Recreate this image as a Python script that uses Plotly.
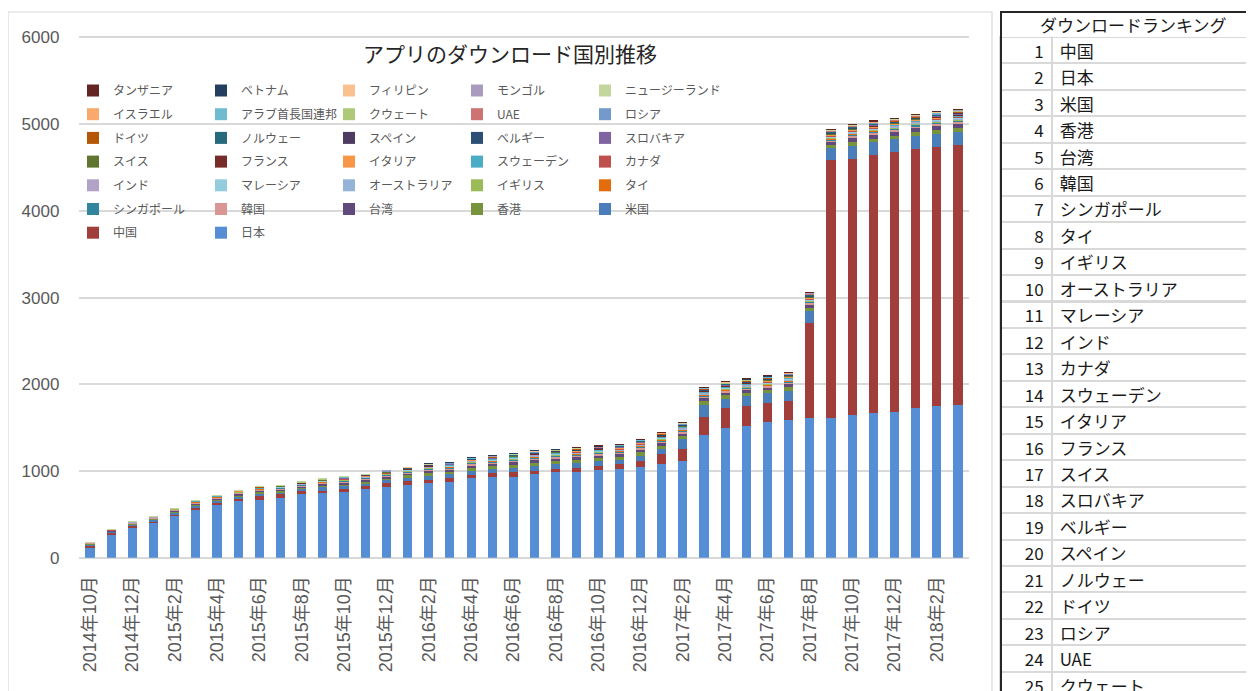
import plotly.graph_objects as go

# the page body adds an 8px margin, so the figure is laid out 8px smaller and shifted
OFF = 8
FW, FH = 1254 - OFF, 691 - OFF


def px(x):
    return (x - OFF) / FW


def py(y):
    return 1 - (y - OFF) / FH


months = ["2014年10月", "2014年11月", "2014年12月",
          "2015年1月", "2015年2月", "2015年3月", "2015年4月", "2015年5月", "2015年6月",
          "2015年7月", "2015年8月", "2015年9月", "2015年10月", "2015年11月", "2015年12月",
          "2016年1月", "2016年2月", "2016年3月", "2016年4月", "2016年5月", "2016年6月",
          "2016年7月", "2016年8月", "2016年9月", "2016年10月", "2016年11月", "2016年12月",
          "2017年1月", "2017年2月", "2017年3月", "2017年4月", "2017年5月", "2017年6月",
          "2017年7月", "2017年8月", "2017年9月", "2017年10月", "2017年11月", "2017年12月",
          "2018年1月", "2018年2月", "2018年3月"]

# series values, stacked from the bottom
japan = [120, 271, 349, 407, 484, 554, 612, 651, 671, 690, 729, 748, 760, 787, 818, 841, 857, 872, 915, 934,
         934, 969, 988, 988, 1008, 1027, 1047, 1085, 1116, 1419, 1496, 1516, 1570, 1589, 1609, 1609, 1647, 1667,
         1686, 1725, 1744, 1764]
china = [20, 19, 23, 15, 19, 19, 19, 27, 39, 39, 39, 27, 27, 39, 39, 39, 39, 43, 35, 39,
         54, 31, 35, 50, 50, 50, 70, 108, 136, 209, 229, 229, 213, 213, 1094, 2974, 2955, 2974,
         2994, 2993, 2993, 2993]
usa = [12, 10, 14, 16, 20, 26, 25, 28, 30, 29, 27, 36, 39, 35, 38, 42, 48, 47, 52, 50,
       50, 56, 55, 56, 56, 55, 60, 58, 116, 128, 110, 116, 112, 125, 140, 145, 150, 148, 145, 147, 148, 150]
hongkong = [8, 6, 8, 10, 13, 16, 16, 18, 19, 18, 17, 23, 25, 22, 24, 27, 31, 30, 34, 32,
            36, 38, 36, 36, 35, 34, 38, 40, 35, 48, 38, 40, 38, 42, 40, 36, 45, 46, 44, 46, 50, 52]
taiwan = [7, 5, 7, 8, 11, 14, 14, 15, 16, 16, 15, 20, 21, 19, 21, 24, 27, 26, 30, 28,
          34, 37, 36, 36, 35, 34, 38, 38, 36, 40, 35, 36, 35, 38, 42, 40, 52, 52, 50, 51, 53, 54]
korea = [4, 3, 4, 5, 6, 8, 8, 9, 9, 9, 9, 11, 12, 11, 12, 14, 16, 15, 17, 16,
         16, 18, 17, 17, 17, 16, 18, 18, 19, 18, 16, 16, 16, 17, 17, 14, 20, 19, 18, 18, 19, 19]
singapore = [3, 2, 3, 3, 5, 6, 5, 6, 6, 6, 6, 8, 8, 8, 8, 9, 10, 10, 11, 11,
             9, 11, 10, 10, 10, 10, 12, 11, 11, 10, 9, 10, 9, 11, 9, 9, 12, 12, 11, 12, 12, 11]
thailand = [1, 1, 2, 2, 3, 3, 3, 3, 4, 3, 3, 4, 5, 4, 4, 5, 6, 6, 7, 7,
            6, 7, 7, 7, 7, 7, 7, 7, 7, 6, 6, 6, 6, 6, 6, 5, 8, 7, 7, 7, 7, 6]
uk = [1, 1, 2, 2, 2, 3, 3, 3, 3, 3, 4, 4, 4, 4, 4, 5, 5, 5, 5, 5,
      6, 6, 6, 6, 6, 7, 7, 7, 8, 8, 8, 8, 9, 9, 9, 10, 10, 10, 10, 10, 11, 11]
australia = [1, 1, 1, 1, 2, 2, 2, 2, 2, 2, 3, 3, 3, 3, 4, 4, 4, 4, 4, 4,
             5, 5, 5, 5, 5, 5, 5, 6, 6, 7, 7, 7, 7, 7, 7, 8, 8, 8, 8, 8, 8, 9]
malaysia = [0, 1, 1, 1, 1, 2, 2, 2, 2, 2, 2, 2, 2, 3, 3, 3, 3, 4, 4, 4,
            4, 4, 4, 4, 4, 5, 5, 5, 5, 5, 5, 6, 6, 6, 6, 7, 7, 7, 7, 7, 7, 7]
india = [0, 0, 1, 1, 1, 1, 1, 1, 2, 2, 2, 2, 2, 2, 2, 2, 3, 3, 3, 3,
         4, 4, 4, 4, 4, 4, 4, 4, 4, 5, 5, 5, 5, 5, 5, 5, 5, 6, 6, 6, 6, 7]
canada = [0, 1, 1, 1, 1, 1, 1, 2, 2, 2, 2, 2, 2, 2, 2, 2, 2, 3, 3, 3,
          3, 3, 4, 4, 4, 4, 4, 4, 4, 4, 4, 4, 5, 5, 5, 5, 5, 5, 5, 5, 5, 5]
sweden = [0, 0, 1, 1, 1, 1, 2, 2, 2, 2, 2, 3, 3, 3, 3, 3, 4, 4, 4, 4,
          4, 4, 5, 5, 5, 5, 5, 5, 6, 6, 6, 6, 6, 7, 7, 7, 7, 7, 7, 8, 8, 8]
italy = [0, 0, 1, 1, 1, 1, 1, 2, 2, 2, 2, 2, 3, 3, 3, 3, 3, 3, 4, 4,
         4, 4, 4, 4, 5, 5, 5, 5, 5, 6, 6, 6, 6, 6, 6, 7, 7, 7, 7, 7, 7, 8]
france = [0, 0, 0, 1, 1, 1, 1, 1, 2, 2, 2, 2, 2, 3, 3, 3, 3, 3, 3, 4,
          4, 4, 4, 4, 4, 5, 5, 5, 5, 5, 5, 6, 6, 6, 6, 6, 6, 7, 7, 7, 7, 7]
switzerland = [0, 0, 0, 1, 1, 1, 1, 1, 1, 2, 2, 2, 2, 2, 3, 3, 3, 3, 3, 3,
               3, 4, 4, 4, 4, 4, 4, 4, 5, 5, 5, 5, 5, 5, 6, 6, 6, 6, 6, 6, 6, 6]
slovakia = [0, 0, 0, 0, 1, 1, 1, 1, 1, 1, 2, 2, 2, 2, 2, 2, 3, 3, 3, 3,
            3, 3, 3, 3, 4, 4, 4, 4, 4, 4, 4, 5, 5, 5, 5, 5, 5, 5, 5, 6, 6, 6]
belgium = [0, 0, 0, 0, 0, 1, 1, 1, 1, 1, 1, 2, 2, 2, 2, 2, 2, 2, 3, 3,
           3, 3, 3, 3, 3, 3, 4, 4, 4, 4, 4, 4, 4, 4, 5, 5, 5, 5, 5, 5, 5, 5]
spain = [0, 0, 0, 0, 0, 1, 1, 1, 1, 1, 1, 1, 2, 2, 2, 2, 2, 2, 2, 3,
         3, 3, 3, 3, 3, 3, 3, 4, 4, 4, 4, 4, 4, 4, 4, 5, 5, 5, 5, 5, 5, 5]
norway = [0, 0, 0, 0, 0, 0, 1, 1, 1, 1, 1, 1, 1, 2, 2, 2, 2, 2, 2, 2,
          2, 3, 3, 3, 3, 3, 3, 3, 3, 4, 4, 4, 4, 4, 4, 4, 4, 4, 5, 5, 5, 5]
germany = [0, 0, 0, 0, 0, 0, 0, 1, 1, 1, 1, 1, 1, 1, 2, 2, 2, 2, 2, 2,
           2, 2, 2, 3, 3, 3, 3, 3, 3, 3, 3, 4, 4, 4, 4, 4, 4, 4, 4, 4, 5, 5]
russia = [0, 0, 0, 0, 0, 0, 0, 0, 1, 1, 1, 1, 1, 1, 1, 1, 2, 2, 2, 2,
          2, 2, 2, 2, 2, 3, 3, 3, 3, 3, 3, 3, 3, 3, 4, 4, 4, 4, 4, 4, 4, 4]
uae = [0, 0, 0, 0, 0, 0, 0, 0, 0, 1, 1, 1, 1, 1, 1, 1, 1, 2, 2, 2,
       2, 2, 2, 2, 2, 2, 2, 3, 3, 3, 3, 3, 3, 3, 3, 3, 4, 4, 4, 4, 4, 4]
kuwait = [0, 0, 0, 0, 0, 0, 0, 0, 0, 0, 1, 1, 1, 1, 1, 1, 1, 1, 1, 2,
          2, 2, 2, 2, 2, 2, 2, 2, 2, 3, 3, 3, 3, 3, 3, 3, 3, 3, 3, 4, 4, 4]
arab_emirates = [0, 0, 0, 0, 0, 0, 0, 0, 0, 0, 0, 1, 1, 1, 1, 1, 1, 1, 1, 1,
                 1, 2, 2, 2, 2, 2, 2, 2, 2, 2, 2, 2, 3, 3, 3, 3, 3, 3, 3, 3, 3, 3]
israel = [0, 0, 0, 0, 0, 0, 0, 0, 0, 0, 0, 0, 1, 1, 1, 1, 1, 1, 1, 1,
          1, 1, 1, 2, 2, 2, 2, 2, 2, 2, 2, 2, 2, 2, 2, 3, 3, 3, 3, 3, 3, 3]
new_zealand = [1, 1, 1, 1, 1, 1, 1, 1, 1, 1, 1, 1, 1, 1, 1, 1, 1, 2, 2, 2,
               2, 2, 2, 2, 2, 2, 2, 2, 2, 2, 2, 2, 3, 3, 3, 3, 3, 3, 3, 3, 3, 3]
mongolia = [0, 0, 0, 0, 0, 0, 0, 0, 0, 0, 0, 0, 0, 0, 1, 1, 1, 1, 1, 1,
            1, 1, 1, 1, 1, 1, 1, 1, 2, 2, 2, 2, 2, 2, 2, 2, 2, 2, 2, 2, 2, 2]
philippines = [0, 0, 0, 0, 0, 0, 0, 0, 0, 0, 0, 0, 0, 0, 0, 1, 1, 1, 1, 1,
               1, 1, 1, 1, 1, 1, 1, 1, 1, 2, 2, 2, 2, 2, 2, 2, 2, 2, 2, 2, 2, 2]
vietnam = [0, 0, 0, 0, 0, 0, 0, 0, 0, 0, 0, 0, 0, 0, 0, 0, 1, 1, 1, 1,
           1, 1, 1, 1, 1, 1, 1, 1, 1, 1, 1, 2, 2, 2, 2, 2, 2, 2, 2, 2, 2, 2]
tanzania = [0, 0, 0, 0, 0, 0, 0, 0, 0, 0, 0, 0, 0, 0, 0, 0, 0, 0, 0, 0,
            0, 0, 0, 1, 1, 1, 1, 1, 1, 1, 1, 1, 2, 2, 2, 2, 2, 2, 2, 2, 3, 3]

series_names = ["日本", "中国", "米国", "香港", "台湾", "韓国", "シンガポール", "タイ", "イギリス",
                "オーストラリア", "マレーシア", "インド", "カナダ", "スウェーデン", "イタリア", "フランス",
                "スイス", "スロバキア", "ベルギー", "スペイン", "ノルウェー", "ドイツ", "ロシア", "UAE",
                "クウェート", "アラブ首長国連邦", "イスラエル", "ニュージーランド", "モンゴル", "フィリピン",
                "ベトナム", "タンザニア"]
series_values = [japan, china, usa, hongkong, taiwan, korea, singapore, thailand, uk, australia,
                 malaysia, india, canada, sweden, italy, france, switzerland, slovakia, belgium, spain,
                 norway, germany, russia, uae, kuwait, arab_emirates, israel, new_zealand, mongolia,
                 philippines, vietnam, tanzania]
series_colors = ["#558ED5", "#A13D3A", "#4A7EBB", "#77933C", "#604A7B", "#D99694", "#31859C", "#E46C0A",
                 "#9BBB59", "#95B3D7", "#93CDDD", "#B3A2C7", "#C0504D", "#4BACC6", "#F79646", "#772C2A",
                 "#5F7530", "#8064A2", "#2C4D75", "#4D3B62", "#276A7C", "#B65708", "#729ACA", "#CD7371",
                 "#AFC97A", "#6FBCD2", "#F9A96B", "#C3D69B", "#A99BBD", "#FAC090", "#233E5F", "#632523"]

ranking_no = list(range(1, 26))
ranking_names = ["中国", "日本", "米国", "香港", "台湾", "韓国", "シンガポール", "タイ", "イギリス",
                 "オーストラリア", "マレーシア", "インド", "カナダ", "スウェーデン", "イタリア", "フランス",
                 "スイス", "スロバキア", "ベルギー", "スペイン", "ノルウェー", "ドイツ", "ロシア", "UAE",
                 "クウェート"]

FONT = "Noto Sans CJK JP"
TICKFONT = "Liberation Sans, Noto Sans CJK JP"
GRAY = "#595959"

fig = go.Figure()
n = len(series_names)
for i, (name, vals, col) in enumerate(zip(series_names, series_values, series_colors)):
    column = (n - 1 - i) % 5
    fig.add_trace(go.Bar(
        x=months, y=vals, name=name, legendgroup=name, legendrank=n - i,
        marker=dict(color=col, line=dict(width=0)),
        legend="legend" if column == 0 else f"legend{column + 1}",
    ))

# legend: 5 columns (one legend each), 7 rows inside the plot area
legend_layout = {}
for c in range(5):
    key = "legend" if c == 0 else f"legend{c + 1}"
    legend_layout[key] = dict(
        x=px(73 + 128 * c), xanchor="left", y=py(76), yanchor="top",
        orientation="v", traceorder="grouped", tracegroupgap=4.7,
        bgcolor="rgba(0,0,0,0)",
        font=dict(family=FONT, size=12, color=GRAY),
        itemclick=False, itemdoubleclick=False,
    )

# ranking table
fig.add_trace(go.Table(
    domain=dict(x=[px(1000), 1], y=[0, py(12)]),
    columnwidth=[50, 196],
    header=dict(values=["", ""], height=25, fill_color="white", line=dict(width=0)),
    cells=dict(values=[ranking_no, ranking_names], height=26.45, align=["right", "left"],
               fill_color="white", line=dict(color="#D9D9D9", width=2),
               font=dict(family=FONT, size=17, color="#1a1a1a")),
))

YMAX = 6030  # a little headroom so the 6000 grid line is drawn inside the plot area
PX_PER_UNIT = (557.7 - 37.5) / 6000
fig.update_layout(
    width=FW, height=FH,
    margin=dict(l=0, r=0, t=0, b=0, autoexpand=False),
    paper_bgcolor="white", plot_bgcolor="white",
    barmode="stack", bargap=0.57,
    showlegend=True,
    title=dict(text="アプリのダウンロード国別推移", x=px(510), xanchor="center",
               y=py(55), yanchor="middle", xref="paper", yref="paper", automargin=False,
               font=dict(family=FONT, size=21, color="#262626")),
    xaxis=dict(domain=[px(79.4), px(968.6)], type="category", range=[-0.5, 41.5], automargin=False,
               tickmode="array", tickvals=months[::2], ticktext=months[::2],
               tickangle=-90, tickfont=dict(family=TICKFONT, size=18, color=GRAY),
               showgrid=False, showline=False, ticks="", ticklabelstandoff=14),
    yaxis=dict(domain=[py(557.7), py(37.5 - PX_PER_UNIT * (YMAX - 6000))], range=[0, YMAX],
               tickvals=[0, 1000, 2000, 3000, 4000, 5000, 6000], automargin=False,
               tickfont=dict(family=TICKFONT, size=17, color=GRAY),
               showgrid=True, gridcolor="#D9D9D9", gridwidth=1.5,
               zeroline=True, zerolinecolor="#D9D9D9", zerolinewidth=1.5,
               showline=False, ticks="", ticklabelstandoff=19),
    font=dict(family=FONT),
    annotations=[dict(text="ダウンロードランキング", x=px(1133), y=py(24.5), xref="paper", yref="paper",
                      xanchor="center", yanchor="middle", showarrow=False,
                      font=dict(family=FONT, size=17, color="#1a1a1a"))],
    shapes=[
        dict(type="rect", xref="paper", yref="paper", x0=px(8), x1=px(992), y0=-0.05, y1=py(12),
             line=dict(color="#D9D9D9", width=1.2), layer="below"),
        dict(type="line", xref="paper", yref="paper", x0=px(1001), x1=px(1001), y0=-0.01, y1=py(11),
             line=dict(color="#262626", width=2)),
        dict(type="line", xref="paper", yref="paper", x0=px(1000), x1=1.01, y0=py(12), y1=py(12),
             line=dict(color="#262626", width=2)),
    ],
    **legend_layout,
)

fig.write_html("out.html")
